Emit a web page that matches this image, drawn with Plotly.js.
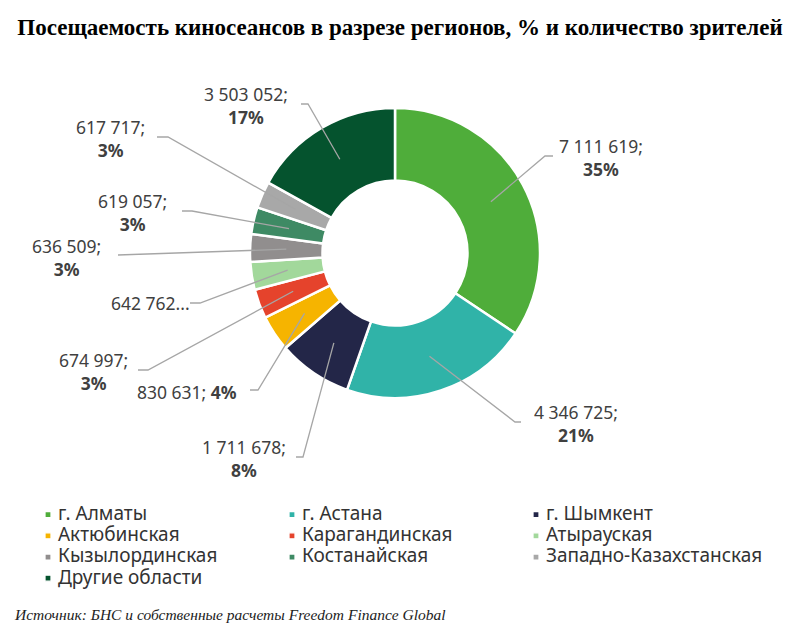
<!DOCTYPE html>
<html>
<head>
<meta charset="utf-8">
<script src="https://cdn.plot.ly/plotly-3.0.1.min.js"></script>
<style>
  html, body { margin: 0; padding: 0; background: #fff; }
  #chart { width: 800px; height: 629px; }
  .legendpie { transform: translate(30px, 0px) scale(0.5); }
  .legendtext { font-size: 19px !important; }
  .legend .scrollbox { clip-path: none !important; }
</style>
</head>
<body>
<div id="chart"></div>
<script>
// ---- data ----
const categories = ['г. Алматы', 'г. Астана', 'г. Шымкент', 'Актюбинская', 'Карагандинская',
  'Атырауская', 'Кызылординская', 'Костанайская', 'Западно-Казахстанская', 'Другие области'];
const viewers = [7111619, 4346725, 1711678, 830631, 674997, 642762, 636509, 619057, 617717, 3503052];
const pctLabels = ['35%', '21%', '8%', '4%', '3%', '3%', '3%', '3%', '3%', '17%'];

// ---- styles ----
const colors = ['#4fad3a', '#30b3a8', '#232648', '#f6b400', '#e5432c',
  '#a2d89b', '#918e8e', '#3e8a64', '#a8a8a8', '#05532e'];
// label layout: 'two' = value; / pct on two lines, 'one' = single line, 'trunc' = truncated
const labelMode = ['two', 'two', 'two', 'one', 'two', 'trunc', 'two', 'two', 'two', 'two'];
const labelPosX = [601, 576, 244, 187, 93, 150, 66, 132, 110, 246];
const labelPosY = [158, 423, 458, 392, 371, 303, 257, 213, 138, 105];
const leaderStartX = [553, 521, 296, 250, 138, 190, 118, 182, 157, 301];
const leaderElbowX = [545, 515, 303, 258, 148, 200, 118, 192, 168, 308];
const leaderY = [156, 422, 457, 390, 370, 303, 255, 211, 137, 104];

const W = 800, H = 629;
const cx = 395, cy = 253, R = 145, holeFrac = 0.5;

const fmt = v => String(v).replace(/\B(?=(\d{3})+(?!\d))/g, ' ');
const px = x => x / W;
const py = y => 1 - y / H;

const total = viewers.reduce((a, b) => a + b, 0);
const rMid = R * (1 + holeFrac) / 2;

const annotations = [];
const shapes = [];
let cum = 0;
viewers.forEach((v, i) => {
  const theta = 2 * Math.PI * (cum + v / 2) / total;
  cum += v;
  const ax = cx + rMid * Math.sin(theta);
  const ay = cy - rMid * Math.cos(theta);
  shapes.push({
    type: 'path', xref: 'paper', yref: 'paper',
    path: `M${px(leaderStartX[i])},${py(leaderY[i])} L${px(leaderElbowX[i])},${py(leaderY[i])} L${px(ax)},${py(ay)}`,
    line: { color: '#a6a6a6', width: 1.3 }
  });
  let txt;
  if (labelMode[i] === 'two') txt = fmt(v) + ';<br><b>' + pctLabels[i] + '</b>';
  else if (labelMode[i] === 'one') txt = fmt(v) + '; <b>' + pctLabels[i] + '</b>';
  else txt = fmt(v) + '...';
  annotations.push({
    xref: 'paper', yref: 'paper', x: px(labelPosX[i]), y: py(labelPosY[i]),
    xanchor: 'center', yanchor: 'middle', showarrow: false, text: txt,
    font: { family: 'Noto Sans, sans-serif', size: 17.5, color: '#404040' }
  });
});

annotations.push({
  xref: 'paper', yref: 'paper', x: px(12), y: py(614), xanchor: 'left', yanchor: 'middle',
  showarrow: false, text: '<i>Источник: БНС и собственные расчеты Freedom Finance Global</i>',
  font: { family: 'Liberation Serif, serif', size: 15.5, color: '#222' }
});

const trace = {
  type: 'pie',
  labels: categories,
  values: viewers,
  sort: false,
  direction: 'clockwise',
  rotation: 0,
  hole: holeFrac,
  textinfo: 'none',
  marker: { colors: colors, line: { color: '#ffffff', width: 2.5 } },
  domain: { x: [px(cx - R), px(cx + R)], y: [py(cy + R), py(cy - R)] }
};

const layout = {
  width: W, height: H,
  margin: { l: 0, r: 0, t: 0, b: 0 },
  paper_bgcolor: '#ffffff',
  title: {
    text: '<b>Посещаемость киносеансов в разрезе регионов, % и количество зрителей</b>',
    x: 0.5, xanchor: 'center', y: py(27), yanchor: 'middle', yref: 'paper',
    font: { family: 'Liberation Serif, serif', size: 23, color: '#000' }
  },
  showlegend: true,
  legend: {
    orientation: 'h', x: px(18), xanchor: 'left', y: py(499), yanchor: 'top',
    entrywidth: 199, entrywidthmode: 'pixels', traceorder: 'normal',
    font: { family: 'Noto Sans, sans-serif', size: 14, color: '#333333' },
    tracegroupgap: 0, itemwidth: 30
  },
  annotations: annotations,
  shapes: shapes
};

Plotly.newPlot('chart', [trace], layout, { displayModeBar: false, staticPlot: true });
</script>
</body>
</html>
